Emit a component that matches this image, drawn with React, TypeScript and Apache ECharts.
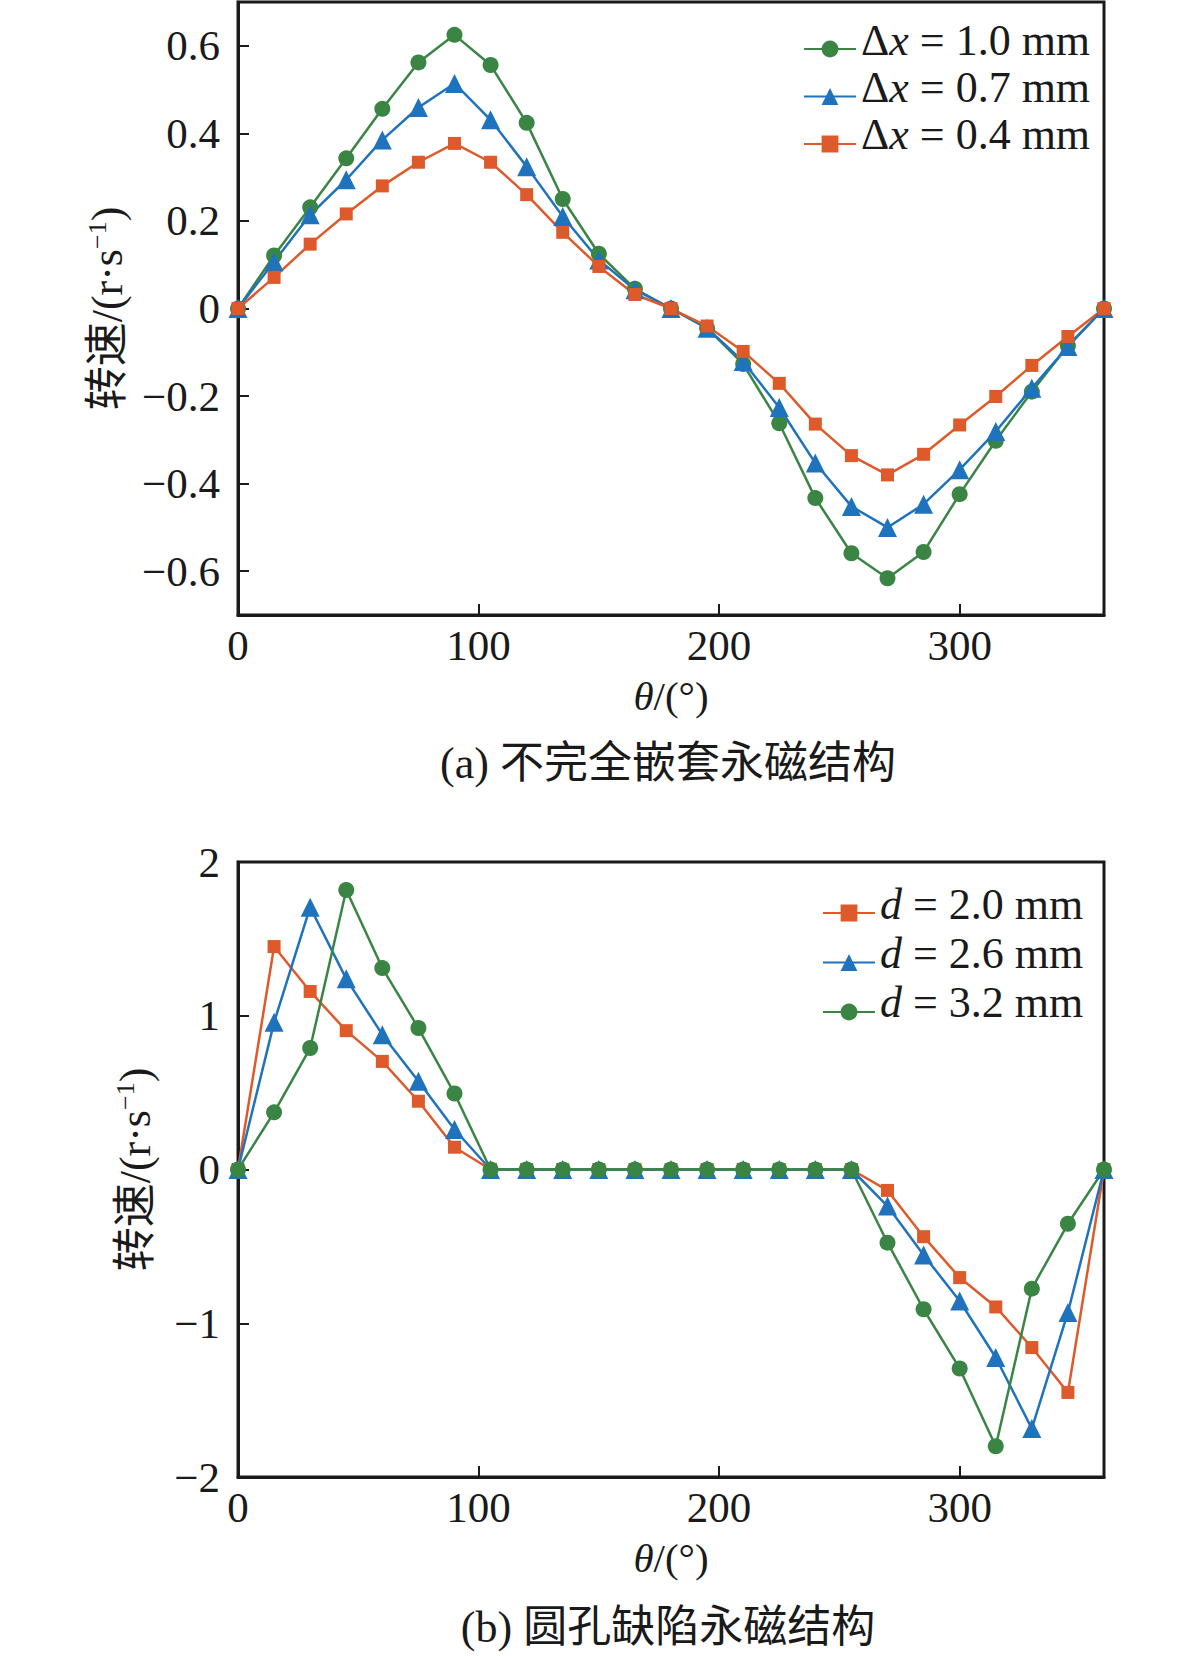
import React, { useEffect, useRef } from "react";
import * as echarts from "echarts";

const THETA = [0, 15, 30, 45, 60, 75, 90, 105, 120, 135, 150, 165, 180, 195, 210, 225, 240, 255, 270, 285, 300, 315, 330, 345, 360];

// (a) 不完全嵌套永磁结构
const A_DX10 = [0, 0.121, 0.231, 0.343, 0.456, 0.562, 0.625, 0.556, 0.424, 0.25, 0.125, 0.045, 0.0, -0.045, -0.127, -0.262, -0.433, -0.559, -0.616, -0.556, -0.424, -0.302, -0.19, -0.085, 0];
const A_DX07 = [0, 0.107, 0.214, 0.294, 0.385, 0.459, 0.514, 0.431, 0.324, 0.21, 0.111, 0.043, 0.0, -0.045, -0.121, -0.226, -0.353, -0.452, -0.5, -0.447, -0.368, -0.281, -0.182, -0.087, 0];
const A_DX04 = [0, 0.071, 0.147, 0.216, 0.28, 0.334, 0.377, 0.334, 0.26, 0.174, 0.096, 0.032, 0.0, -0.04, -0.098, -0.171, -0.264, -0.336, -0.38, -0.333, -0.266, -0.201, -0.13, -0.064, 0];

// (b) 圆孔缺陷永磁结构
const B_D20 = [0, 1.45, 1.158, 0.903, 0.703, 0.444, 0.145, 0, 0, 0, 0, 0, 0, 0, 0, 0, 0, 0, -0.136, -0.437, -0.703, -0.894, -1.158, -1.45, 0];
const B_D26 = [0, 0.957, 1.706, 1.24, 0.877, 0.574, 0.26, 0, 0, 0, 0, 0, 0, 0, 0, 0, 0, 0, -0.238, -0.556, -0.855, -1.223, -1.685, -0.93, 0];
const B_D32 = [0, 0.372, 0.79, 1.818, 1.31, 0.92, 0.494, 0, 0, 0, 0, 0, 0, 0, 0, 0, 0, 0, -0.476, -0.909, -1.294, -1.8, -0.775, -0.353, 0];

const X_LABELS = [0, 100, 200, 300];
const X_TICKS = [100, 200, 300];
const A_Y_TICKS = [-0.6, -0.4, -0.2, 0, 0.2, 0.4, 0.6];
const B_Y_TICKS = [-2, -1, 0, 1, 2];

const LEG_A = ["Δx = 1.0 mm", "Δx = 0.7 mm", "Δx = 0.4 mm"];
const LEG_B = ["d = 2.0 mm", "d = 2.6 mm", "d = 3.2 mm"];

const CAP_A = "(a) 不完全嵌套永磁结构";
const CAP_B = "(b) 圆孔缺陷永磁结构";

const GREEN = "#3b8544";
const BLUE = "#1f73bd";
const ORANGE = "#df5a2b";
const INK = "#1a1a1a";
const FONT = "'Liberation Serif', 'Times New Roman', 'Noto Sans CJK SC', serif";

const pairs = (vals: number[]) => vals.map((v, i) => [THETA[i], v]);

const fmtNum = (v: number, dec: number) => {
  if (Math.abs(v) < 1e-9) return "0";
  return (v < 0 ? "−" : "") + Math.abs(v).toFixed(dec);
};

function App() {
  const ref = useRef<HTMLDivElement>(null);
  useEffect(() => {
    if (!ref.current) return;
    const chart = echarts.init(ref.current, undefined, { renderer: "svg" });

    const xAxisBase = (gridIndex: number) => ({
      type: "value",
      gridIndex,
      min: 0,
      max: 360,
      name: "{i|θ}/(°)",
      nameLocation: "middle",
      nameGap: 60,
      nameTextStyle: {
        fontFamily: FONT,
        fontSize: 41,
        color: INK,
        rich: { i: { fontFamily: FONT, fontSize: 41, fontStyle: "italic", color: INK } },
      },
      axisLine: { show: true, onZero: false, lineStyle: { color: INK, width: 3 } },
      axisTick: { show: true, inside: true, length: 11, customValues: X_TICKS, lineStyle: { color: INK, width: 2 } },
      axisLabel: {
        customValues: X_LABELS,
        margin: 9,
        fontFamily: FONT,
        fontSize: 43,
        color: INK,
        formatter: (v: number) => String(v),
      },
      splitLine: { show: false },
    });

    const yAxisBase = (gridIndex: number, min: number, max: number, ticks: number[], dec: number, gap: number) => ({
      type: "value",
      gridIndex,
      min,
      max,
      name: "转速/(r·s{sup|−1})",
      nameLocation: "middle",
      nameGap: gap,
      nameRotate: 90,
      nameTextStyle: {
        fontFamily: FONT,
        fontSize: 44,
        color: INK,
        lineHeight: 46,
        rich: { sup: { fontFamily: FONT, fontSize: 26, verticalAlign: "top", lineHeight: 26, color: INK } },
      },
      axisLine: { show: true, onZero: false, lineStyle: { color: INK, width: 3 } },
      axisTick: { show: true, inside: true, length: 11, customValues: ticks, lineStyle: { color: INK, width: 2 } },
      axisLabel: {
        customValues: ticks,
        margin: 18,
        fontFamily: FONT,
        fontSize: 43,
        color: INK,
        formatter: (v: number) => fmtNum(v, dec),
      },
      splitLine: { show: false },
    });

    const mkSeries = (name: string, vals: number[], color: string, symbol: string, size: number, idx: number) => ({
      type: "line",
      name,
      xAxisIndex: idx,
      yAxisIndex: idx,
      data: pairs(vals),
      symbol,
      symbolSize: size,
      clip: false,
      lineStyle: { color, width: 2.5 },
      itemStyle: { color },
    });

    const legendRich = {
      i: { fontFamily: FONT, fontSize: 44, fontStyle: "italic", color: INK },
    };
    const legendText = {
      fontFamily: FONT,
      fontSize: 44,
      color: INK,
      lineHeight: 40,
      padding: [0, 0, 18, 0],
      rich: legendRich,
    };

    chart.setOption({
      animation: false,
      backgroundColor: "#ffffff",
      grid: [
        { left: 238, top: 2, width: 866, height: 613, show: true, borderColor: INK, borderWidth: 3, backgroundColor: "transparent" },
        { left: 238, top: 862, width: 866, height: 615, show: true, borderColor: INK, borderWidth: 3, backgroundColor: "transparent" },
      ],
      xAxis: [xAxisBase(0), xAxisBase(1)],
      yAxis: [yAxisBase(0, -0.7, 0.7, A_Y_TICKS, 1, 108), yAxisBase(1, -2, 2, B_Y_TICKS, 0, 80)],
      legend: [
        {
          data: LEG_A,
          orient: "vertical",
          left: 803,
          top: 18,
          padding: 0,
          itemWidth: 52,
          itemHeight: 21,
          itemGap: -12.5,
          textStyle: legendText,
          formatter: (n: string) => n.replace("Δx", "Δ{i|x}"),
        },
        {
          data: LEG_B,
          orient: "vertical",
          left: 822,
          top: 882,
          padding: 0,
          itemWidth: 52,
          itemHeight: 21,
          itemGap: -10.5,
          textStyle: legendText,
          formatter: (n: string) => n.replace(/^d/, "{i|d}"),
        },
      ],
      series: [
        mkSeries(LEG_A[0], A_DX10, GREEN, "circle", 16, 0),
        mkSeries(LEG_A[1], A_DX07, BLUE, "triangle", 19, 0),
        mkSeries(LEG_A[2], A_DX04, ORANGE, "rect", 13, 0),
        mkSeries(LEG_B[0], B_D20, ORANGE, "rect", 13, 1),
        mkSeries(LEG_B[1], B_D26, BLUE, "triangle", 19, 1),
        mkSeries(LEG_B[2], B_D32, GREEN, "circle", 16, 1),
      ],
      graphic: [
        {
          type: "text",
          x: 668,
          y: 763,
          style: { text: CAP_A, fontFamily: FONT, fontSize: 44, fill: INK, textAlign: "center", textVerticalAlign: "middle" },
        },
        {
          type: "text",
          x: 668,
          y: 1627,
          style: { text: CAP_B, fontFamily: FONT, fontSize: 44, fill: INK, textAlign: "center", textVerticalAlign: "middle" },
        },
      ],
    });
    return () => chart.dispose();
  }, []);
  return <div ref={ref} style={{ position: "absolute", left: 0, top: 0, width: 1181, height: 1656 }} />;
}

export default App;
